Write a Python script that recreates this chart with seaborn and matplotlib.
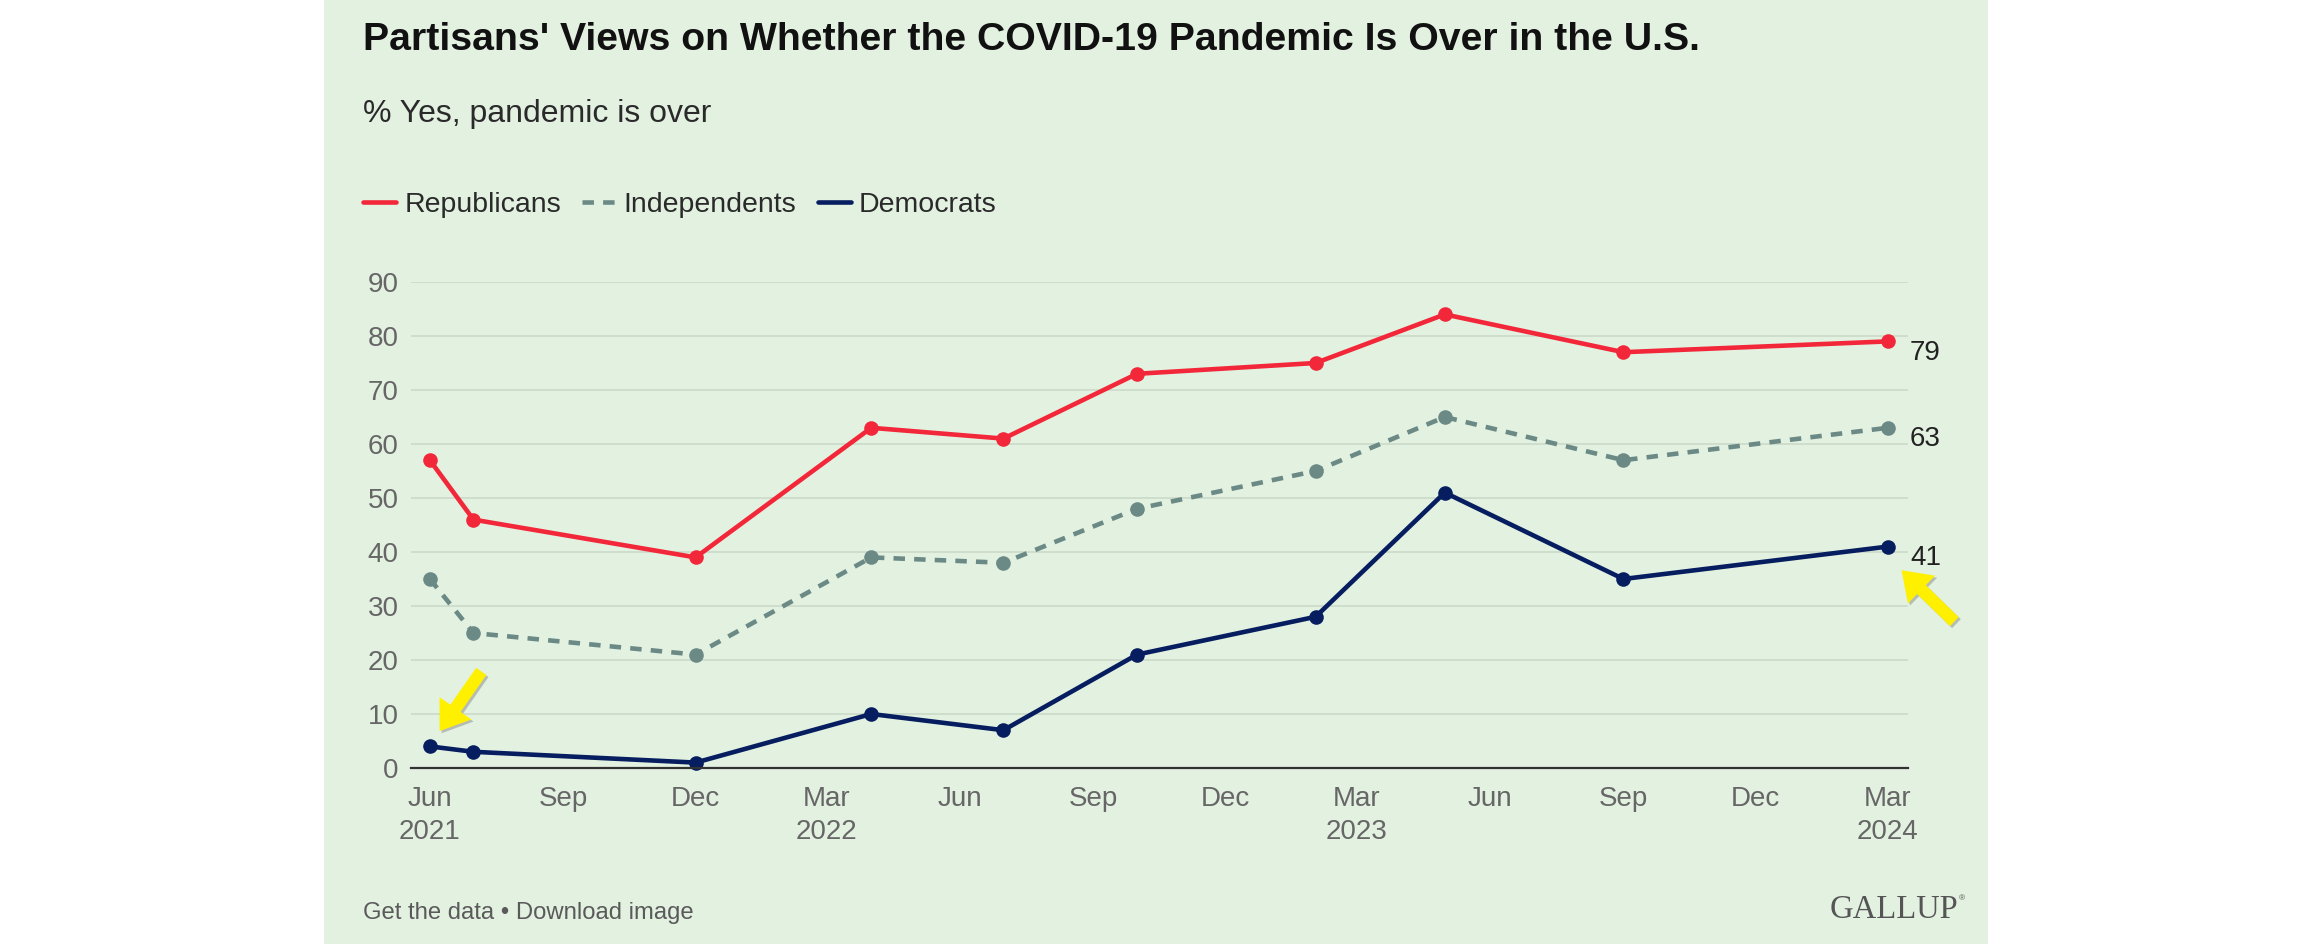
import pandas as pd
import seaborn as sns
import matplotlib.pyplot as plt
import matplotlib.dates as mdates
import matplotlib.patheffects as pe
from matplotlib.lines import Line2D
from matplotlib.patches import Rectangle
from matplotlib.transforms import offset_copy

# survey dates and % saying the pandemic is over
survey_dates = ["2021-06-01", "2021-07-01", "2021-12-01", "2022-04-01", "2022-07-01",
                "2022-10-01", "2023-02-01", "2023-05-01", "2023-09-01", "2024-03-01"]
republicans = [57, 46, 39, 63, 61, 73, 75, 84, 77, 79]
independents = [35, 25, 21, 39, 38, 48, 55, 65, 57, 63]
democrats = [4, 3, 1, 10, 7, 21, 28, 51, 35, 41]

parties = ["Republicans", "Independents", "Democrats"]
colors = {"Republicans": "#F2283A", "Independents": "#6B8A86", "Democrats": "#061D5F"}

tick_dates = ["2021-06-01", "2021-09-01", "2021-12-01", "2022-03-01", "2022-06-01",
              "2022-09-01", "2022-12-01", "2023-03-01", "2023-06-01", "2023-09-01",
              "2023-12-01", "2024-03-01"]
tick_labels = ["Jun\n2021", "Sep", "Dec", "Mar\n2022", "Jun", "Sep", "Dec",
               "Mar\n2023", "Jun", "Sep", "Dec", "Mar\n2024"]
y_ticks = [0, 10, 20, 30, 40, 50, 60, 70, 80, 90]

df = pd.DataFrame({
    "date": pd.to_datetime(survey_dates * 3),
    "party": sum([[p] * len(survey_dates) for p in parties], []),
    "value": republicans + independents + democrats,
})

sns.set_style("white")
plt.rcParams["font.family"] = ["Liberation Sans", "DejaVu Sans"]

W, H = 2312, 944
fig = plt.figure(figsize=(W / 100, H / 100), dpi=100)
fig.patch.set_facecolor("white")
bg = "#E3F1E1"
fig.patches.append(Rectangle((324 / W, 0), (1988 - 324) / W, 1, transform=fig.transFigure,
                             facecolor=bg, edgecolor="none", zorder=-1))

ax = fig.add_axes([411 / W, 1 - 768 / H, (1908 - 411) / W, (768 - 282) / H])
ax.patch.set_alpha(0)

sns.lineplot(data=df, x="date", y="value", hue="party", style="party", hue_order=parties,
             style_order=parties, palette=colors,
             dashes={"Republicans": "", "Independents": (2.5, 2), "Democrats": ""},
             markers={"Republicans": "o", "Independents": "o", "Democrats": "o"},
             markersize=10.5, markeredgewidth=0, linewidth=3.3, legend=False, ax=ax)
for line in ax.lines:
    line.set_clip_on(False)

ax.set_ylim(0, 90)
ax.set_xlim(pd.Timestamp("2021-05-19"), pd.Timestamp("2024-03-15"))
ax.set_yticks(y_ticks)
ax.set_xticks(pd.to_datetime(tick_dates), tick_labels)
ax.tick_params(axis="both", length=0, labelsize=20, labelcolor="#666666")
ax.tick_params(axis="x", pad=13)
ax.tick_params(axis="y", pad=9)
for lab in ax.get_xticklabels():
    lab.set_linespacing(1.35)
ax.set_xlabel("")
ax.set_ylabel("")
for s in ["top", "right", "left"]:
    ax.spines[s].set_visible(False)
ax.spines["bottom"].set_color("#333333")
ax.spines["bottom"].set_linewidth(1.6)
ax.grid(axis="y", color="#CCDACA", linewidth=1.2)
ax.set_axisbelow(True)

# end labels
last_date = pd.Timestamp(survey_dates[-1])
first_date = pd.Timestamp(survey_dates[0])
for vals in [republicans, independents, democrats]:
    ax.annotate(str(vals[-1]), xy=(last_date, vals[-1]), xytext=(16, -8),
                textcoords="offset points", ha="left", va="center",
                fontsize=20, color="#222222")

# yellow highlight arrows
shadow = [pe.SimplePatchShadow(offset=(1.5, -1.5), shadow_rgbFace="#888888", alpha=0.5), pe.Normal()]
arrow = dict(arrowstyle="simple,head_length=1.0,head_width=1.4,tail_width=0.45",
             mutation_scale=20, fc="#FFF000", ec="none", shrinkA=0, shrinkB=0,
             path_effects=shadow)
ax.annotate("", xy=(mdates.date2num(first_date), democrats[0]),
            xycoords=offset_copy(ax.transData, fig=fig, x=7, y=11, units="points"),
            xytext=(30, 43), textcoords="offset points", arrowprops=arrow, annotation_clip=False)
ax.annotate("", xy=(mdates.date2num(last_date), democrats[-1]),
            xycoords=offset_copy(ax.transData, fig=fig, x=10, y=-17, units="points"),
            xytext=(38, -37), textcoords="offset points", arrowprops=arrow, annotation_clip=False)

# titles
fig.text(363 / W, 1 - 40 / H, "Partisans' Views on Whether the COVID-19 Pandemic Is Over in the U.S.",
         fontsize=28.3, fontweight="bold", color="#111111", va="center", ha="left")
fig.text(363 / W, 1 - 114 / H, "% Yes, pandemic is over", fontsize=23, color="#2a2a2a",
         va="center", ha="left")

handles = [Line2D([], [], color=colors["Republicans"], lw=3.3),
           Line2D([], [], color=colors["Independents"], lw=3.3, dashes=(2.5, 2)),
           Line2D([], [], color=colors["Democrats"], lw=3.3)]
fig.legend(handles, parties, loc="center left", bbox_to_anchor=(363 / W, 1 - 205 / H),
           ncol=3, frameon=False, fontsize=20.5, handlelength=1.15, handletextpad=0.3,
           columnspacing=0.75, borderpad=0, borderaxespad=0, labelcolor="#2a2a2a")

fig.text(363 / W, 1 - 913 / H, "Get the data \u2022 Download image", fontsize=17.2,
         color="#5a5a5a", va="center", ha="left")
fig.text(1958 / W, 1 - 910 / H, "GALLUP", fontsize=23.5, color="#555555", va="center",
         ha="right", family=["Liberation Serif", "DejaVu Serif"])
fig.text(1959 / W, 1 - 899 / H, "\u00ae", fontsize=6, color="#555555", va="center", ha="left")

fig.savefig("out.png", dpi=100)
